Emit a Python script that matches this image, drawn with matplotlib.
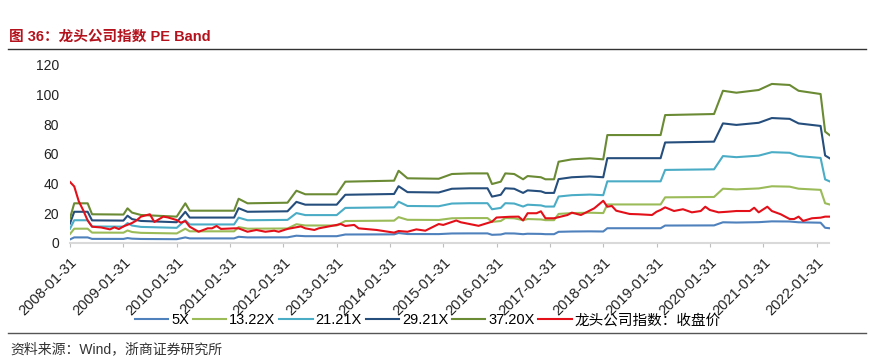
"""PE Band chart for the leading-company index (图 36)."""

import matplotlib.pyplot as plt
import matplotlib.dates as mdates
import pandas as pd

plt.rcParams.update({
    "font.family": ["Liberation Sans", "Noto Sans CJK SC", "DejaVu Sans"],
    "font.size": 10,
    "axes.spines.top": False,
    "axes.spines.right": False,
    "axes.spines.left": False,
    "figure.facecolor": "white",
    "axes.facecolor": "white",
})

# ── data ─────────────────────────────────────────────────────────────
# EPS path (band line = EPS x multiple)
eps_dates = ["2008-01", "2008-02", "2008-05", "2008-06", "2009-01", "2009-02",
             "2009-03", "2009-05", "2010-01", "2010-03", "2010-04", "2011-02",
             "2011-03", "2011-05", "2012-02", "2012-04", "2012-06", "2013-01",
             "2013-03", "2014-02", "2014-03", "2014-05", "2014-12", "2015-03",
             "2015-07", "2015-11", "2015-12", "2016-02", "2016-03", "2016-05",
             "2016-07", "2016-08", "2016-11", "2016-12", "2017-02", "2017-03",
             "2017-06", "2017-10", "2018-01", "2018-02", "2019-02", "2019-03",
             "2020-02", "2020-04", "2020-07", "2020-12", "2021-03", "2021-07",
             "2021-09", "2022-02", "2022-03", "2022-04"]
eps_values = [0.444, 0.715, 0.715, 0.516, 0.511, 0.624,
              0.546, 0.503, 0.473, 0.715, 0.581, 0.581,
              0.798, 0.715, 0.726, 0.944, 0.879, 0.879,
              1.108, 1.126, 1.306, 1.169, 1.161, 1.247,
              1.258, 1.258, 1.065, 1.108, 1.258, 1.247,
              1.151, 1.210, 1.188, 1.151, 1.151, 1.470,
              1.513, 1.532, 1.513, 1.954, 1.954, 2.317,
              2.336, 2.758, 2.723, 2.772, 2.882, 2.863,
              2.758, 2.699, 2.016, 1.954]

pe_multiples = [5, 13.22, 21.21, 29.21, 37.20]
band_labels = ["5X", "13.22X", "21.21X", "29.21X", "37.20X"]

price_dates = ["2008-01", "2008-02", "2008-03", "2008-04", "2008-05", "2008-06",
               "2008-08", "2008-10", "2008-11", "2008-12", "2009-01", "2009-03",
               "2009-04", "2009-05", "2009-07", "2009-08", "2009-10", "2009-11",
               "2010-01", "2010-02", "2010-03", "2010-04", "2010-06", "2010-08",
               "2010-09", "2010-10", "2010-11", "2011-02", "2011-03", "2011-05",
               "2011-07", "2011-09", "2011-11", "2011-12", "2012-02", "2012-05",
               "2012-06", "2012-08", "2012-09", "2013-01", "2013-02", "2013-03",
               "2013-05", "2013-06", "2013-10", "2014-02", "2014-03", "2014-05",
               "2014-07", "2014-09", "2014-12", "2015-01", "2015-04", "2015-05",
               "2015-09", "2015-12", "2016-01", "2016-04", "2016-06", "2016-07",
               "2016-08", "2016-10", "2016-11", "2016-12", "2017-02", "2017-05",
               "2017-06", "2017-08", "2017-11", "2018-01", "2018-02", "2018-03",
               "2018-04", "2018-07", "2018-09", "2018-12", "2019-01", "2019-02",
               "2019-03", "2019-05", "2019-07", "2019-09", "2019-11", "2019-12",
               "2020-01", "2020-03", "2020-05", "2020-07", "2020-10", "2020-11",
               "2020-12", "2021-02", "2021-03", "2021-05", "2021-07", "2021-08",
               "2021-09", "2021-10", "2021-12", "2022-02", "2022-03", "2022-04"]
price_values = [41, 38, 28, 22, 15, 10.8,
                10.3, 9, 10.4, 9.2, 11, 13.3,
                15, 17.6, 19.2, 14, 17.6, 17.1,
                15.3, 13.5, 14.6, 10.8, 7.4, 9.7,
                9.7, 11.3, 9.3, 9.7, 9.7, 7.4,
                8.6, 7.4, 8.1, 7.4, 9.3, 11,
                9.7, 8.6, 9.7, 12, 12.6, 11.3,
                12, 9.7, 8.6, 6.8, 7.9, 7.4,
                9, 8.1, 12.6, 12, 15, 13.8,
                11.4, 14.2, 17, 17.5, 17.6, 15,
                19.9, 19.9, 21.2, 16.5, 16.5, 18.7,
                20.3, 18.7, 23.2, 28.3, 24.3, 24.8,
                21.6, 19.4, 19.2, 18.7, 20.9, 22.1,
                23.9, 21.4, 22.6, 20.5, 21.4, 24.3,
                22.1, 20.5, 20.9, 21.4, 21.4, 23.6,
                20.5, 24.3, 21.4, 19.2, 16, 16,
                17.6, 14.7, 16.5, 16.9, 17.6, 17.6]
price_label = "龙头公司指数：收盘价"

tick_years = list(range(2008, 2023))

BAND_COLORS = ["#4f81bd", "#9bbb59", "#4bacc6", "#254e7d", "#6b8a34"]
PRICE_COLOR = "#e3101a"
TITLE_RED = "#b4121c"


def month_end(labels):
    return pd.to_datetime(labels, format="%Y-%m") + pd.offsets.MonthEnd(0)


def main():
    fig = plt.figure(figsize=(8.75, 3.6), dpi=100)
    ax = fig.add_axes([70 / 875, 117.3 / 360, 759.5 / 875, 177.7 / 360])

    ed = month_end(eps_dates)
    for m, lab, col in zip(pe_multiples, band_labels, BAND_COLORS):
        ax.plot(ed, [e * m for e in eps_values], color=col, lw=1.5, label=lab)
    ax.plot(month_end(price_dates), price_values, color=PRICE_COLOR, lw=1.5,
            label=price_label, zorder=5)

    ax.set_ylim(0, 120)
    ax.set_yticks(range(0, 121, 20))
    ax.tick_params(axis="y", length=0, labelsize=10, pad=8, labelcolor="#222222")

    ticks = pd.to_datetime([f"{y}-01-31" for y in tick_years])
    ax.set_xlim(ticks[0], pd.Timestamp("2022-04-30"))
    ax.set_xticks(ticks)
    ax.set_xticklabels([t.strftime("%Y-%m-%d") for t in ticks], rotation=45,
                       ha="right", va="top", rotation_mode="anchor",
                       fontsize=10.5, color="#222222")
    ax.tick_params(axis="x", length=3, color="#bfbfbf", pad=6)
    ax.spines["bottom"].set_color("#d9d9d9")
    ax.spines["bottom"].set_linewidth(1.5)

    fig.legend(loc="center", bbox_to_anchor=(428 / 875, 1 - 320.5 / 360),
               ncol=6, frameon=False, fontsize=10.5, handlelength=2.3,
               handletextpad=0.2, columnspacing=0.25, borderpad=0)

    # header / footer
    fig.text(9 / 875, 1 - 36.5 / 360, "图 36：龙头公司指数 PE Band",
             color=TITLE_RED, fontsize=10.5, fontweight="bold",
             ha="left", va="center")
    fig.add_artist(plt.Line2D([8 / 875, 866 / 875], [1 - 49 / 360] * 2,
                              color="#333333", lw=1.0))
    fig.add_artist(plt.Line2D([8 / 875, 866 / 875], [1 - 333 / 360] * 2,
                              color="#555555", lw=1.0))
    fig.text(10 / 875, 1 - 349 / 360, "资料来源：Wind，浙商证券研究所",
             color="#333333", fontsize=10, ha="left", va="center")

    fig.savefig("out.png", dpi=100, facecolor="white")
    plt.close(fig)


if __name__ == "__main__":
    main()
